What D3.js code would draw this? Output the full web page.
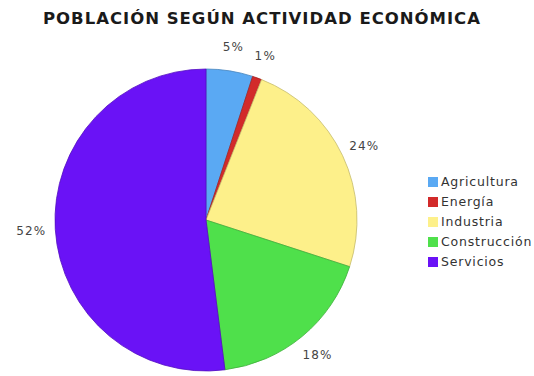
<!DOCTYPE html>
<html>
<head>
<meta charset="utf-8">
<script src="https://cdn.jsdelivr.net/npm/d3@7"></script>
<style>
  html, body { margin: 0; padding: 0; background: #fff; }
  svg { display: block; }
</style>
</head>
<body>
<svg id="chart" width="534" height="376"></svg>
<script>
// Población según actividad económica (%)
const categories = ["Agricultura", "Energía", "Industria", "Construcción", "Servicios"];
const values = [5, 1, 24, 18, 52];
const colors = ["#5aa9f3", "#d22a2a", "#fdf08a", "#4fe04b", "#6a12f6"];
const titleText = "POBLACIÓN SEGÚN ACTIVIDAD ECONÓMICA";

const svg = d3.select("#chart");
const cx = 206, cy = 220, radius = 151, labelRadius = 175;
const font = "DejaVu Sans, Verdana, sans-serif";

svg.append("text")
  .attr("x", 261.5)
  .attr("y", 24)
  .attr("text-anchor", "middle")
  .attr("font-family", font)
  .attr("font-weight", "bold")
  .attr("font-size", 16.5)
  .attr("fill", "#1a1a1a")
  .attr("textLength", 437)
  .attr("lengthAdjust", "spacing")
  .text(titleText);

const data = categories.map((c, i) => ({ name: c, value: values[i], color: colors[i] }));

const pie = d3.pie().value(d => d.value).sort(null);
const arcs = pie(data);
const arc = d3.arc().innerRadius(0).outerRadius(radius);
const labelArc = d3.arc().innerRadius(labelRadius).outerRadius(labelRadius);

const g = svg.append("g").attr("transform", `translate(${cx},${cy})`);

g.selectAll("path.slice")
  .data(arcs)
  .join("path")
  .attr("class", "slice")
  .attr("d", arc)
  .attr("fill", d => d.data.color)
  .attr("stroke", d => d3.color(d.data.color).darker(0.7))
  .attr("stroke-width", 0.8);

g.selectAll("text.pct")
  .data(arcs)
  .join("text")
  .attr("class", "pct")
  .attr("transform", d => `translate(${labelArc.centroid(d)})`)
  .attr("text-anchor", "middle")
  .attr("dy", "0.35em")
  .attr("font-family", font)
  .attr("font-size", 12)
  .attr("letter-spacing", 1.2)
  .attr("fill", "#444")
  .text(d => d.data.value + "%");

// Legend
const legend = svg.append("g").attr("transform", "translate(428,182)");
const rowStep = 20;
const rows = legend.selectAll("g.row")
  .data(data)
  .join("g")
  .attr("class", "row")
  .attr("transform", (d, i) => `translate(0,${i * rowStep})`);

rows.append("rect")
  .attr("x", 0)
  .attr("y", -5)
  .attr("width", 10)
  .attr("height", 10)
  .attr("fill", d => d.color);

rows.append("text")
  .attr("x", 13)
  .attr("dy", "0.35em")
  .attr("font-family", font)
  .attr("font-size", 12.5)
  .attr("letter-spacing", 0.8)
  .attr("fill", "#333")
  .text(d => d.name);
</script>
</body>
</html>
